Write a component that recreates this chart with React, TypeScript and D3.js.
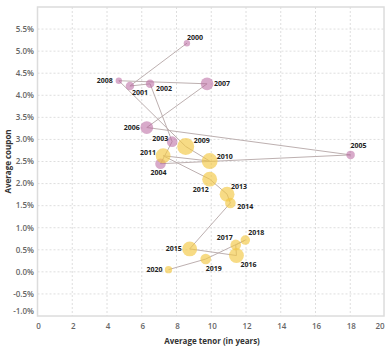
import React, { useEffect, useRef } from 'react';
import * as d3 from 'd3';

const years = [2000, 2001, 2002, 2003, 2004, 2005, 2006, 2007, 2008, 2009, 2010,
  2011, 2012, 2013, 2014, 2015, 2016, 2017, 2018, 2019, 2020];
const tenor = [8.6, 5.32, 6.48, 7.75, 7.08, 18.02, 6.29, 9.76, 4.68, 8.53, 9.91,
  7.23, 9.91, 10.91, 11.1, 8.76, 11.45, 11.41, 11.96, 9.68, 7.54];
const coupon = [5.18, 4.21, 4.26, 2.95, 2.45, 2.65, 3.27, 4.26, 4.33, 2.84, 2.51,
  2.63, 2.1, 1.76, 1.56, 0.52, 0.37, 0.61, 0.72, 0.29, 0.05];
// bubble size (relative volume)
const volume = [9, 16, 16, 25, 25, 16, 36, 36, 9, 64, 56,
  49, 49, 49, 25, 49, 49, 25, 20, 25, 12];
const xTicks = [0, 2, 4, 6, 8, 10, 12, 14, 16, 18, 20];
const yTicks = [-1, -0.5, 0, 0.5, 1, 1.5, 2, 2.5, 3, 3.5, 4, 4.5, 5, 5.5];

// label placement: [dx, dy, anchor]
const labelPos: Record<number, [number, number, string]> = {
  2000: [0, -6, 'start'], 2001: [2, 7, 'start'], 2002: [6, 5, 'start'],
  2003: [-4, -3, 'end'], 2004: [-2, 9, 'middle'], 2005: [8, -9, 'middle'],
  2006: [-7, 0, 'end'], 2007: [7, 0, 'start'], 2008: [-6, 0, 'end'],
  2009: [8, -6, 'start'], 2010: [7, -5, 'start'], 2011: [-7, -3, 'end'],
  2012: [-1, 10, 'end'], 2013: [4, -8, 'start'], 2014: [7, 4, 'start'],
  2015: [-8, 0, 'end'], 2016: [4, 9, 'start'], 2017: [-3, -7, 'end'],
  2018: [3, -8, 'start'], 2019: [0, 9, 'start'], 2020: [-6, 0, 'end'],
};

const W = 387;
const H = 350;

const App = () => {
  const svgRef = useRef<SVGSVGElement>(null);

  useEffect(() => {
    const svg = d3.select(svgRef.current);
    svg.selectAll('*').remove();

    const left = 37.5, right = 385, top = 7, bottom = 316;
    const x = d3.scaleLinear().domain([0, 20]).range([left, right]);
    const y = d3.scaleLinear().domain([-1, 6]).range([bottom, top]);
    const r = d3.scaleSqrt().domain([0, 64]).range([0, 8.5]);
    const font = '"Open Sans", sans-serif';

    const data = years.map((yr, i) => ({ yr, t: tenor[i], c: coupon[i], v: volume[i] }));

    // grid
    const grid = svg.append('g');
    grid.selectAll('.vg').data(xTicks.slice(1, -1)).enter().append('line')
      .attr('x1', d => x(d)).attr('x2', d => x(d))
      .attr('y1', top).attr('y2', bottom)
      .attr('stroke', '#d6d6d6').attr('stroke-dasharray', '2,2').attr('stroke-width', 0.8);
    grid.selectAll('.hg').data(yTicks.slice(1)).enter().append('line')
      .attr('x1', left).attr('x2', 384)
      .attr('y1', d => y(d)).attr('y2', d => y(d))
      .attr('stroke', '#d6d6d6').attr('stroke-dasharray', '2,2').attr('stroke-width', 0.8);

    // frame
    svg.append('rect')
      .attr('x', left).attr('y', top)
      .attr('width', 384 - left).attr('height', bottom - top)
      .attr('fill', 'none').attr('stroke', '#dcdcdc').attr('stroke-width', 1.5);

    // tick labels
    svg.append('g').selectAll('text').data(yTicks).enter().append('text')
      .attr('x', 34)
      .attr('y', d => (d === -1 ? y(d) - 5 : y(d)))
      .attr('dy', '0.35em')
      .attr('text-anchor', 'end')
      .style('font-family', font).style('font-size', '8px').style('font-weight', 600)
      .style('fill', '#666')
      .text(d => `${d.toFixed(1)}%`);

    svg.append('g').selectAll('text').data(xTicks).enter().append('text')
      .attr('x', d => (d === 20 ? x(d) - 5 : x(d) + 1))
      .attr('y', 329)
      .attr('text-anchor', 'middle')
      .style('font-family', font).style('font-size', '8px').style('font-weight', 600)
      .style('fill', '#666')
      .text(d => d);

    // axis titles
    svg.append('text')
      .attr('x', 212).attr('y', 344)
      .attr('text-anchor', 'middle')
      .style('font-family', font).style('font-size', '8px').style('font-weight', 700)
      .style('fill', '#333')
      .text('Average tenor (in years)');

    svg.append('text')
      .attr('transform', `translate(11,${(top + bottom) / 2}) rotate(-90)`)
      .attr('text-anchor', 'middle')
      .style('font-family', font).style('font-size', '8px').style('font-weight', 700)
      .style('fill', '#333')
      .text('Average coupon');

    // path connecting years
    const line = d3.line<any>().x(d => x(d.t)).y(d => y(d.c));
    svg.append('path')
      .datum(data)
      .attr('d', line)
      .attr('fill', 'none')
      .attr('stroke', '#bdb0b0')
      .attr('stroke-width', 1);

    // bubbles
    svg.append('g').selectAll('circle').data(data).enter().append('circle')
      .attr('cx', d => x(d.t)).attr('cy', d => y(d.c))
      .attr('r', d => r(d.v))
      .attr('fill', d => (d.yr <= 2008 ? '#b8649f' : '#f2c744'))
      .attr('fill-opacity', d => (d.yr <= 2008 ? 0.55 : 0.65));

    // labels
    svg.append('g').selectAll('text').data(data).enter().append('text')
      .attr('x', d => x(d.t) + labelPos[d.yr][0])
      .attr('y', d => y(d.c) + labelPos[d.yr][1])
      .attr('dy', '0.35em')
      .attr('text-anchor', d => labelPos[d.yr][2])
      .style('font-family', font).style('font-size', '7px').style('font-weight', 700)
      .style('fill', '#222')
      .text(d => d.yr);
  }, []);

  return (
    <svg ref={svgRef} width={W} height={H}
      style={{ position: 'absolute', left: 0, top: 0, background: '#fff' }} />
  );
};

export default App;
